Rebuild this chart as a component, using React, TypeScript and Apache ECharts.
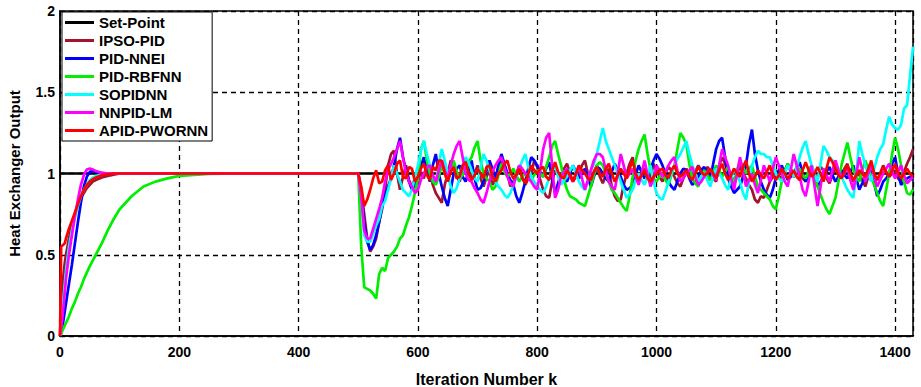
import React, { useEffect, useRef } from "react";
import * as echarts from "echarts";

// ---- sample positions ----
const EARLY_K = [0, 2, 5, 8, 10, 15, 20, 25, 30, 35, 40, 45, 50, 55, 60, 70, 80, 90, 100, 120, 140, 160, 180, 200, 250, 300, 400, 500];
const LATE_FIRST_K = 505;
const LATE_STEP_K = 5;
const LATE_COUNT = 186;
const X_TICK_LABELS = ["0", "200", "400", "600", "800", "1000", "1200", "1400"];
const Y_TICK_LABELS = ["0", "0.5", "1", "1.5", "2"];

// ---- Set-Point ----
const SETPOINT_K = [0, 1430];
const SETPOINT_V = [1, 1];

// ---- IPSO-PID ----
const IPSO_EARLY = [0, 0.2, 0.35, 0.45, 0.5, 0.6, 0.68, 0.75, 0.8, 0.85, 0.88, 0.91, 0.93, 0.95, 0.96, 0.975, 0.985, 0.993, 1, 1, 1, 1, 1, 1, 1, 1, 1, 1];
const IPSO_LATE = [
  0.9, 0.75, 0.6, 0.52, 0.55, 0.6, 0.7, 0.78, 0.9, 1.05,
  1.12, 1.14, 1.0, 0.9, 0.98, 1.05, 0.96, 0.92, 0.97, 0.95,
  1.01, 0.97, 1.06, 1.02, 0.93, 0.88, 0.85, 0.82, 0.93, 1.0,
  1.08, 1.05, 0.98, 0.95, 1.03, 1.08, 1.02, 0.98, 1.0, 1.05,
  0.97, 0.92, 0.98, 1.02, 0.93, 0.96, 1.04, 1.08, 1.03, 1.0,
  0.92, 0.95, 1.0, 1.05, 0.98, 0.93, 0.97, 1.0, 1.08, 1.04,
  0.96, 0.9, 0.86, 0.85, 0.95, 1.02, 1.0, 0.97, 1.03, 1.06,
  1.0, 0.95, 0.98, 1.0, 1.05, 1.08, 1.0, 0.96, 1.01, 1.05,
  0.98, 0.94, 0.99, 1.03, 0.92, 0.86, 0.83, 0.84, 0.93, 1.0,
  1.06, 1.1, 1.0, 0.95, 0.99, 1.03, 1.0, 0.97, 1.06, 1.02,
  0.98, 0.95, 1.0, 1.04, 1.02, 0.98, 0.94, 0.92, 0.97, 1.03,
  0.99, 0.96, 1.01, 1.05, 1.02, 0.98, 1.04, 1.02, 0.97, 0.95,
  1.05, 1.1, 1.06, 1.0, 0.95, 0.93, 0.99, 1.05, 1.0, 0.97,
  0.93, 0.9, 0.84, 0.82, 0.86, 0.85, 0.9, 0.95, 0.98, 1.02,
  0.99, 0.96, 1.02, 1.06, 1.01, 0.98, 1.0, 1.03, 0.97, 0.95,
  1.01, 1.05, 1.0, 0.97, 1.04, 1.02, 0.97, 0.94, 0.99, 1.04,
  1.01, 0.98, 1.03, 1.06, 0.99, 0.95, 0.98, 1.0, 0.96, 0.92,
  0.98, 1.03, 0.99, 0.96, 1.0, 1.05, 1.01, 0.98, 1.0, 1.02,
  0.97, 0.95, 1.01, 1.06, 1.1, 1.15,
];

// ---- PID-NNEI ----
const NNEI_EARLY = [0, 0.02, 0.08, 0.15, 0.2, 0.32, 0.44, 0.57, 0.7, 0.82, 0.92, 0.98, 1.01, 1.015, 1.01, 1.003, 1, 1, 1, 1, 1, 1, 1, 1, 1, 1, 1, 1];
const NNEI_LATE = [
  0.88, 0.7, 0.58, 0.53, 0.56, 0.62, 0.7, 0.8, 0.86, 0.92,
  0.97, 1.05, 1.15, 1.22, 1.1, 1.02, 0.95, 0.9, 0.93, 0.98,
  1.04, 1.1, 1.02, 0.95, 1.05, 1.12, 1.0, 0.92, 0.85, 0.8,
  0.9, 1.0, 1.03, 1.05, 0.98, 0.95, 1.02, 1.08, 0.97, 0.9,
  0.91, 0.95, 1.02, 1.08, 1.03, 0.97, 1.05, 1.12, 1.06, 1.0,
  0.96, 0.93, 0.86, 0.82, 0.88, 0.95, 1.03, 1.1, 1.08, 1.05,
  1.01, 0.98, 1.03, 1.07, 0.97, 0.88, 0.94, 1.0, 0.97, 0.95,
  1.0, 1.05, 1.01, 0.97, 1.0, 1.03, 0.97, 0.92, 0.98, 1.04,
  1.03, 1.0, 0.97, 0.95, 1.01, 1.06, 1.02, 0.98, 0.93, 0.9,
  0.91, 0.93, 0.99, 1.05, 1.01, 0.97, 0.99, 1.02, 1.08, 1.12,
  1.09, 1.05, 1.0, 0.95, 0.92, 0.9, 0.95, 1.0, 1.03, 1.02,
  0.97, 0.93, 0.95, 0.98, 1.02, 1.04, 1.0, 0.96, 1.06, 1.15,
  1.2, 1.22, 1.1, 0.97, 0.92, 0.88, 0.9, 0.92, 0.98, 1.05,
  1.18, 1.27, 1.12, 1.02, 0.95, 0.9, 0.87, 0.85, 0.9, 0.97,
  1.02, 1.05, 1.0, 0.96, 0.98, 1.0, 1.04, 1.07, 1.0, 0.95,
  0.99, 1.02, 0.97, 0.92, 0.95, 0.98, 1.01, 1.04, 0.99, 0.95,
  0.98, 1.02, 0.99, 0.97, 1.01, 1.05, 0.97, 0.9, 0.94, 0.98,
  1.01, 1.03, 0.94, 0.86, 0.9, 0.95, 0.97, 1.0, 1.06, 1.1,
  1.0, 0.93, 0.95, 0.97, 0.98, 0.96,
];

// ---- PID-RBFNN ----
const RBFNN_EARLY = [0, 0.015, 0.04, 0.065, 0.08, 0.12, 0.17, 0.21, 0.26, 0.3, 0.35, 0.39, 0.43, 0.465, 0.5, 0.57, 0.65, 0.72, 0.78, 0.86, 0.92, 0.95, 0.97, 0.985, 0.997, 1, 1, 1];
const RBFNN_LATE = [
  0.55, 0.3, 0.29, 0.28, 0.26, 0.23, 0.38, 0.42, 0.4, 0.48,
  0.5, 0.52, 0.55, 0.6, 0.62, 0.68, 0.73, 0.8, 0.88, 0.97,
  1.15, 1.2, 1.08, 1.0, 0.95, 0.93, 0.98, 1.05, 1.0, 0.95,
  1.02, 1.08, 1.01, 0.97, 0.99, 1.02, 1.07, 1.1, 1.16, 1.2,
  1.08, 1.0, 0.97, 0.95, 0.9, 0.92, 0.99, 1.06, 1.01, 0.98,
  1.0, 1.03, 0.99, 0.95, 0.98, 1.0, 0.97, 0.96, 0.99, 1.02,
  1.0, 0.98, 1.04, 1.1, 1.17, 1.2, 1.12, 1.05, 0.96, 0.9,
  0.86, 0.85, 0.84, 0.82, 0.81, 0.8, 0.86, 0.92, 0.99, 1.05,
  1.07, 1.05, 1.0, 0.95, 0.9, 0.88, 0.85, 0.82, 0.79, 0.77,
  0.86, 0.98, 1.08, 1.15, 1.2, 1.24, 1.12, 1.02, 0.97, 0.95,
  0.98, 1.0, 0.96, 0.93, 0.99, 1.05, 1.15, 1.25, 1.22, 1.18,
  1.06, 0.97, 0.94, 0.92, 0.97, 1.02, 0.99, 0.96, 1.0, 1.05,
  1.02, 0.98, 1.01, 1.04, 0.99, 0.95, 1.02, 1.08, 1.04, 1.0,
  1.03, 1.05, 0.98, 0.92, 0.9, 0.88, 0.86, 0.84, 0.8, 0.78,
  0.86, 0.95, 1.01, 1.06, 1.03, 1.0, 1.02, 1.03, 0.99, 0.97,
  1.01, 1.05, 0.98, 0.92, 0.87, 0.82, 0.78, 0.75, 0.8, 0.85,
  0.95, 1.05, 1.12, 1.19, 1.1, 1.02, 0.98, 0.95, 1.02, 1.08,
  1.03, 0.98, 0.93, 0.88, 0.83, 0.8, 0.9, 1.0, 1.12, 1.22,
  1.15, 1.05, 0.95, 0.88, 0.87, 0.9,
];

// ---- SOPIDNN ----
const SOPIDNN_EARLY = [0, 0.08, 0.2, 0.32, 0.4, 0.55, 0.65, 0.73, 0.8, 0.86, 0.9, 0.93, 0.96, 0.975, 0.985, 0.995, 1, 1, 1, 1, 1, 1, 1, 1, 1, 1, 1, 1];
const SOPIDNN_LATE = [
  0.85, 0.62, 0.58, 0.58, 0.63, 0.68, 0.72, 0.8, 0.83, 0.9,
  0.97, 1.05, 1.0, 0.95, 0.9, 0.88, 0.86, 0.9, 0.98, 1.05,
  1.14, 1.2, 1.12, 1.05, 0.98, 0.95, 1.06, 1.15, 1.08, 1.0,
  0.92, 0.88, 0.91, 0.97, 1.05, 1.1, 1.07, 1.02, 0.97, 0.95,
  1.04, 1.12, 1.08, 1.02, 0.98, 0.95, 0.92, 0.9, 0.87, 0.85,
  0.88, 0.93, 0.98, 1.03, 1.08, 1.12, 1.04, 0.98, 0.95, 0.92,
  0.9, 0.88, 0.92, 0.97, 1.02, 1.05, 0.98, 0.93, 0.96, 0.98,
  1.02, 1.05, 1.0, 0.95, 0.92, 0.9, 0.96, 1.02, 1.06, 1.12,
  1.2, 1.28, 1.2, 1.15, 1.1, 1.05, 1.0, 0.95, 0.9, 0.85,
  0.87, 0.9, 0.96, 1.0, 0.96, 0.93, 0.99, 1.05, 0.95, 0.88,
  0.85, 0.84, 0.89, 0.95, 1.0, 1.05, 1.09, 1.12, 1.16, 1.2,
  1.12, 1.05, 1.0, 0.95, 0.98, 1.0, 0.96, 0.92, 0.98, 1.03,
  1.0, 0.97, 0.93, 0.9, 0.97, 1.03, 0.99, 0.95, 0.88, 0.84,
  0.95, 1.05, 1.1, 1.14, 1.12, 1.12, 1.1, 1.1, 1.05, 1.0,
  0.97, 0.95, 1.0, 1.05, 1.02, 0.98, 1.04, 1.1, 1.16, 1.2,
  1.12, 1.05, 1.0, 0.95, 1.06, 1.17, 1.14, 1.1, 1.08, 1.05,
  1.01, 0.98, 0.94, 0.9, 0.87, 0.85, 1.0, 1.2, 1.12, 1.05,
  1.0, 0.95, 1.03, 1.1, 1.15, 1.18, 1.27, 1.35, 1.3, 1.28,
  1.27, 1.3, 1.4, 1.42, 1.6, 1.78,
];

// ---- NNPID-LM ----
const NNPIDLM_EARLY = [0, 0.05, 0.15, 0.27, 0.35, 0.5, 0.62, 0.74, 0.84, 0.93, 0.99, 1.025, 1.03, 1.025, 1.015, 1.005, 1, 1, 1, 1, 1, 1, 1, 1, 1, 1, 1, 1];
const NNPIDLM_LATE = [
  0.85, 0.65, 0.6, 0.6, 0.66, 0.72, 0.78, 0.85, 0.95, 1.02,
  1.06, 1.1, 1.15, 1.2, 1.1, 1.0, 0.95, 0.92, 0.88, 0.9,
  0.96, 1.0, 1.04, 1.05, 0.99, 0.95, 1.02, 1.08, 1.02, 0.97,
  1.05, 1.12, 1.17, 1.2, 1.1, 1.0, 0.96, 0.95, 0.91, 0.88,
  0.84, 0.82, 0.88, 0.95, 1.01, 1.05, 1.08, 1.1, 1.04, 0.98,
  0.94, 0.92, 0.99, 1.05, 1.03, 1.0, 0.97, 0.95, 0.92, 0.9,
  1.02, 1.15, 1.22, 1.25, 1.05, 0.85, 0.9, 0.98, 1.01, 1.03,
  0.98, 0.95, 1.0, 1.05, 0.97, 0.9, 0.96, 1.02, 1.08, 1.12,
  1.12, 1.1, 1.02, 0.95, 0.92, 0.9, 1.0, 1.12, 1.05, 0.97,
  1.0, 1.03, 0.98, 0.93, 1.0, 1.08, 0.99, 0.92, 0.97, 1.05,
  1.02, 0.98, 1.01, 1.05, 1.08, 1.1, 1.02, 0.95, 0.97, 1.0,
  1.02, 1.04, 0.98, 0.93, 0.95, 0.98, 1.01, 1.03, 0.99, 0.96,
  1.05, 1.15, 1.1, 1.05, 0.97, 0.9, 1.0, 1.1, 1.01, 0.92,
  0.96, 1.0, 0.93, 0.88, 0.96, 1.05, 1.0, 0.95, 1.03, 1.1,
  1.05, 1.0, 0.95, 0.92, 1.02, 1.12, 1.05, 0.98, 0.9, 0.86,
  0.95, 1.05, 0.92, 0.8, 0.92, 1.03, 0.99, 0.95, 1.02, 1.08,
  1.02, 0.97, 1.0, 1.04, 0.96, 0.9, 1.0, 1.1, 1.02, 0.95,
  1.0, 1.05, 0.98, 0.92, 0.96, 1.0, 1.03, 1.06, 1.01, 0.97,
  1.01, 1.05, 0.99, 0.94, 0.96, 0.98,
];

// ---- APID-PWORNN ----
const APID_EARLY = [0, 0.55, 0.56, 0.57, 0.6, 0.66, 0.71, 0.76, 0.81, 0.86, 0.9, 0.93, 0.95, 0.965, 0.975, 0.99, 0.995, 1, 1, 1, 1, 1, 1, 1, 1, 1, 1, 1];
const APID_LATE = [
  0.92, 0.8, 0.84, 0.9, 0.97, 1.02, 0.94, 0.95, 1.02, 1.05,
  0.96, 1.0, 1.06, 1.08, 0.98, 0.97, 1.04, 1.03, 0.95, 0.98,
  1.03, 1.06, 0.99, 0.96, 1.04, 1.02, 1.08, 1.08, 1.0, 0.95,
  1.01, 1.04, 0.97, 0.98, 1.05, 1.07, 1.0, 0.96, 0.99, 1.03,
  1.0, 0.97, 1.04, 1.05, 0.98, 0.95, 1.0, 1.02, 1.06, 1.08,
  1.01, 0.97, 0.99, 1.03, 0.97, 0.94, 1.0, 1.05, 1.02, 1.0,
  1.03, 1.04, 0.98, 0.96, 1.02, 1.07, 1.01, 0.98, 0.97, 1.02,
  0.99, 0.95, 1.0, 1.05, 1.02, 1.0, 0.97, 0.96, 1.01, 1.04,
  1.0, 0.98, 1.03, 1.06, 1.0, 0.95, 0.99, 1.03, 1.0, 0.97,
  1.03, 1.08, 1.0, 0.96, 0.99, 1.02, 0.97, 0.95, 0.98, 1.0,
  1.02, 1.03, 0.99, 0.97, 1.02, 1.05, 1.0, 0.98, 1.0, 1.02,
  0.98, 0.96, 1.0, 1.04, 1.01, 0.99, 1.0, 1.03, 1.0, 0.97,
  1.02, 1.06, 1.0, 0.96, 0.99, 1.03, 1.0, 0.98, 1.04, 1.08,
  1.0, 0.95, 0.98, 1.02, 0.99, 0.97, 1.01, 1.05, 0.99, 0.96,
  0.99, 1.03, 1.0, 0.97, 0.99, 1.02, 0.98, 0.96, 1.02, 1.07,
  1.02, 0.98, 1.0, 1.04, 1.0, 0.95, 1.03, 1.1, 1.07, 1.03,
  0.99, 0.97, 1.01, 1.05, 1.0, 0.96, 0.99, 1.02, 1.0, 0.98,
  1.03, 1.08, 1.0, 0.96, 1.0, 1.04, 1.01, 0.98, 1.02, 1.06,
  1.0, 0.97, 1.0, 1.03, 1.0, 0.98,
];

const SERIES_NAMES = ["Set-Point", "IPSO-PID", "PID-NNEI", "PID-RBFNN", "SOPIDNN", "NNPID-LM", "APID-PWORNN"];
const SERIES_COLORS = ["#000000", "#A2142F", "#0000FF", "#00EE00", "#00FFFF", "#FF00FF", "#FF0000"];

const FONT = 'Arial, "Liberation Sans", Helvetica, sans-serif';

const LATE_K = Array.from({ length: LATE_COUNT }, (_, i) => LATE_FIRST_K + i * LATE_STEP_K);

function buildData(early: number[], late: number[]): number[][] {
  const pts: number[][] = EARLY_K.map((k, i) => [k, early[i]]);
  LATE_K.forEach((k, i) => {
    if (late[i] !== undefined) pts.push([k, late[i]]);
  });
  return pts;
}

export default function App() {
  const ref = useRef<HTMLDivElement>(null);
  useEffect(() => {
    if (!ref.current) return;
    const chart = echarts.init(ref.current, null, { renderer: "svg" });
    const datasets: number[][][] = [
      SETPOINT_K.map((k, i) => [k, SETPOINT_V[i]]),
      buildData(IPSO_EARLY, IPSO_LATE),
      buildData(NNEI_EARLY, NNEI_LATE),
      buildData(RBFNN_EARLY, RBFNN_LATE),
      buildData(SOPIDNN_EARLY, SOPIDNN_LATE),
      buildData(NNPIDLM_EARLY, NNPIDLM_LATE),
      buildData(APID_EARLY, APID_LATE),
    ];
    const dashed = { color: "#000", type: [5, 4] as number[], width: 1.3 };
    chart.setOption({
      animation: false,
      backgroundColor: "#fff",
      grid: {
        left: 60,
        right: 8,
        top: 11,
        bottom: 51,
        containLabel: false,
        outerBoundsMode: "none",
        show: true,
        borderColor: "#000",
        borderWidth: 1.5,
        backgroundColor: "transparent",
      },
      legend: {
        orient: "vertical",
        left: 62,
        top: 12,
        data: SERIES_NAMES,
        icon: "rect",
        itemWidth: 29,
        itemHeight: 3,
        itemGap: 3,
        padding: [3, 4, 3, 3],
        borderColor: "#000",
        borderWidth: 1,
        backgroundColor: "#fff",
        textStyle: { color: "#000", fontWeight: "bold", fontSize: 15, fontFamily: FONT },
        z: 10,
      },
      xAxis: {
        type: "value",
        min: 0,
        max: 1430,
        interval: 200,
        name: "Iteration Number k",
        nameLocation: "middle",
        nameGap: 35,
        nameTextStyle: { color: "#000", fontWeight: "bold", fontSize: 16, fontFamily: FONT },
        axisLine: { show: true, onZero: false, lineStyle: { color: "#000", width: 1.5 } },
        axisTick: { show: false },
        axisLabel: {
          color: "#000",
          fontWeight: "bold",
          fontSize: 14,
          fontFamily: FONT,
          margin: 9,
          showMaxLabel: false,
          formatter: (v: number) => {
            const idx = Math.round(v / 200);
            return v % 200 === 0 && X_TICK_LABELS[idx] !== undefined ? X_TICK_LABELS[idx] : "";
          },
        },
        splitLine: { show: true, lineStyle: dashed },
      },
      yAxis: {
        type: "value",
        min: 0,
        max: 2,
        interval: 0.5,
        name: "Heat Exchanger Output",
        nameLocation: "middle",
        nameGap: 38,
        nameTextStyle: { color: "#000", fontWeight: "bold", fontSize: 15, fontFamily: FONT },
        axisLine: { show: true, onZero: false, lineStyle: { color: "#000", width: 1.5 } },
        axisTick: { show: false },
        axisLabel: {
          color: "#000",
          fontWeight: "bold",
          fontSize: 14,
          fontFamily: FONT,
          margin: 5,
          formatter: (v: number) => {
            const idx = Math.round(v / 0.5);
            return Y_TICK_LABELS[idx] !== undefined ? Y_TICK_LABELS[idx] : "";
          },
        },
        splitLine: { show: true, lineStyle: dashed },
      },
      series: SERIES_NAMES.map((name, i) => ({
        name,
        type: "line",
        data: datasets[i],
        symbol: "none",
        showSymbol: false,
        smooth: false,
        color: SERIES_COLORS[i],
        lineStyle: { color: SERIES_COLORS[i], width: 2.7 },
        z: 2 + i,
      })),
    });
    return () => chart.dispose();
  }, []);
  return (
    <div
      ref={ref}
      style={{ position: "fixed", left: 0, top: 0, width: 921, height: 387, background: "#fff" }}
    />
  );
}
